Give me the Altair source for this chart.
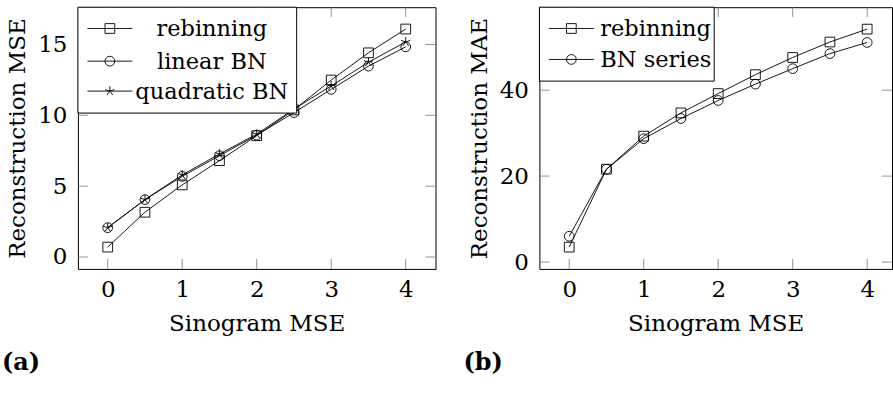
import altair as alt
import pandas as pd

# ---- data ----
sinogram_mse = [0, 0.5, 1, 1.5, 2, 2.5, 3, 3.5, 4]
mse_rebinning = [0.70, 3.16, 5.09, 6.80, 8.56, 10.38, 12.49, 14.41, 16.09]
mse_linear_bn = [2.07, 4.05, 5.69, 7.15, 8.60, 10.19, 11.83, 13.47, 14.83]
mse_quadratic_bn = [2.07, 4.05, 5.79, 7.27, 8.67, 10.45, 12.07, 13.75, 15.18]

mae_rebinning = [3.47, 21.6, 29.3, 34.7, 39.2, 43.6, 47.6, 51.2, 54.2]
mae_bn_series = [6.0, 21.6, 28.7, 33.4, 37.6, 41.4, 45.0, 48.5, 51.1]

x_ticks = [0, 1, 2, 3, 4]
mse_ticks = [0, 5, 10, 15]
mae_ticks = [0, 20, 40]

FONT = "DejaVu Serif"
FS = 23
LFS = 22.5
STAR = "M0,0L0,-1M0,0L0.951,-0.309M0,0L0.588,0.809M0,0L-0.588,0.809M0,0L-0.951,-0.309"
SHAPES = {"rebinning": "square", "linear BN": "circle", "quadratic BN": STAR, "BN series": "circle"}

ONE = alt.Data(values=[{}])


def make_panel(series, yticks, ytitle, xsc, ysc, W, H, legend_box, legend_ys,
               text_x, text_align, tag):
    xax = alt.Axis(values=x_ticks, title="Sinogram MSE", format="d")
    yax = alt.Axis(values=yticks, title=ytitle, format="d")
    layers = []
    dx = pd.DataFrame({"t": x_ticks})
    dy = pd.DataFrame({"t": yticks})
    c = "#777777"
    L = 10
    X = lambda f: alt.X(f, scale=xsc, axis=xax)
    Y = lambda f: alt.Y(f, scale=ysc, axis=yax)
    layers.append(alt.Chart(dx).mark_rule(color=c, strokeWidth=0.8).encode(
        x=X("t:Q"), y=alt.value(H), y2=alt.value(H - L)))
    layers.append(alt.Chart(dx).mark_rule(color=c, strokeWidth=0.8).encode(
        x=X("t:Q"), y=alt.value(0), y2=alt.value(L)))
    layers.append(alt.Chart(dy).mark_rule(color=c, strokeWidth=0.8).encode(
        y=Y("t:Q"), x=alt.value(0), x2=alt.value(L)))
    layers.append(alt.Chart(dy).mark_rule(color=c, strokeWidth=0.8).encode(
        y=Y("t:Q"), x=alt.value(W), x2=alt.value(W - L)))
    for name, ys in series:
        df = pd.DataFrame({"x": sinogram_mse, "y": ys})
        base = alt.Chart(df).encode(x=X("x:Q"), y=Y("y:Q"))
        layers.append(base.mark_line(color="black", strokeWidth=0.9))
        layers.append(base.mark_point(shape=SHAPES[name], size=95, filled=False,
                                      color="black", strokeWidth=0.9, opacity=1))
    bw, bh = legend_box
    layers.append(alt.Chart(ONE).mark_rect(fill="white", stroke="black", strokeWidth=1).encode(
        x=alt.value(0), x2=alt.value(bw), y=alt.value(0), y2=alt.value(bh)))
    for (name, _), yy in zip(series, legend_ys):
        layers.append(alt.Chart(ONE).mark_rule(color="black", strokeWidth=0.9).encode(
            x=alt.value(9.5), x2=alt.value(54.5), y=alt.value(yy)))
        layers.append(alt.Chart(ONE).mark_point(shape=SHAPES[name], size=95, filled=False,
                                                color="black", strokeWidth=0.9, opacity=1).encode(
            x=alt.value(32), y=alt.value(yy)))
        layers.append(alt.Chart(ONE).mark_text(font=FONT, fontSize=LFS, align=text_align,
                                               baseline="middle", color="black").encode(
            x=alt.value(text_x), y=alt.value(yy + 1), text=alt.value(name)))
    layers.append(alt.Chart(ONE).mark_text(font=FONT, fontSize=24, fontWeight="bold",
                                           align="left", baseline="middle", color="black").encode(
        x=alt.value(-76), y=alt.value(356), text=alt.value(tag)))
    return alt.layer(*layers).properties(width=W, height=H)


H = 262
xsc1 = alt.Scale(domain=[-0.4, 4.4], nice=False, zero=False)
ysc1 = alt.Scale(domain=[-0.84, 17.63], nice=False, zero=False)
xsc2 = alt.Scale(domain=[-0.4, 4.333], nice=False, zero=False)
ysc2 = alt.Scale(domain=[-1.6, 59.3], nice=False, zero=False)

left = make_panel([("rebinning", mse_rebinning), ("linear BN", mse_linear_bn),
                   ("quadratic BN", mse_quadratic_bn)],
                  mse_ticks, "Reconstruction MSE", xsc1, ysc1, 358, H,
                  (219, 106), [21.3, 54, 84], 134, "center", "(a)")
right = make_panel([("rebinning", mae_rebinning), ("BN series", mae_bn_series)],
                   mae_ticks, "Reconstruction MAE", xsc2, ysc2, 353, H,
                   (175, 74), [21.3, 52.3], 61, "left", "(b)")

chart = alt.hconcat(left, right, spacing=104, bounds="flush").properties(
    padding={"left": 1, "top": 6, "right": 0, "bottom": 0}
).configure_view(stroke="black", strokeWidth=1).configure_axis(
    domain=False, ticks=False, grid=False,
    labelFont=FONT, labelFontSize=FS, labelColor="black", labelPadding=10,
    titleFont=FONT, titleFontSize=FS, titleFontWeight="normal", titleColor="black",
).configure_axisX(titlePadding=11).configure_axisY(titlePadding=8, labelPadding=11)

chart.save("out.html", embed_options={"renderer": "svg", "actions": False})
